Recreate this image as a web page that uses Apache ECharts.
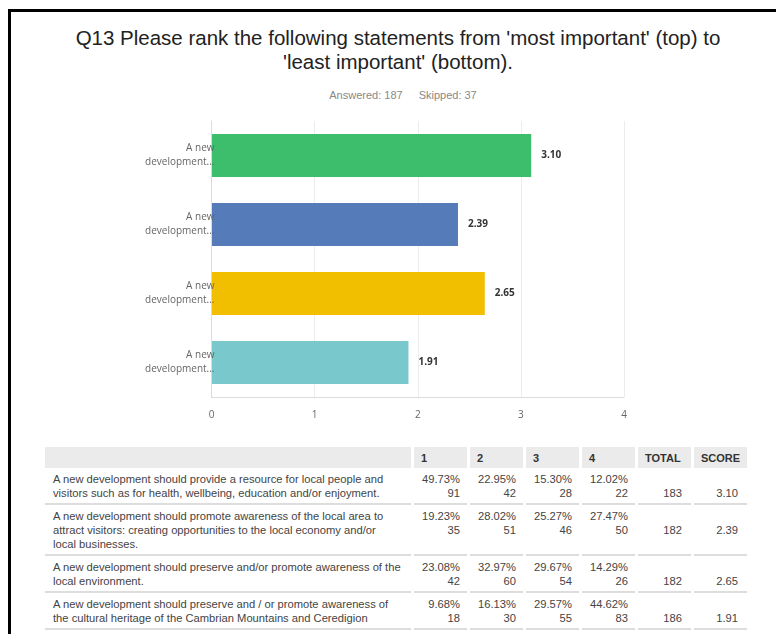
<!DOCTYPE html>
<html>
<head>
<meta charset="utf-8">
<script src="https://cdn.jsdelivr.net/npm/echarts@6/dist/echarts.min.js"></script>
<style>
  html, body { margin: 0; padding: 0; background: #fff; }
  body { width: 776px; height: 634px; position: relative; overflow: hidden; font-family: "Liberation Sans", Arial, sans-serif; }
  #frame { position: absolute; left: 8px; top: 9px; width: 800px; height: 700px;
           border-top: 3px solid #000; border-left: 3px solid #000; }
  #title { position: absolute; left: 0; top: 26px; width: 796px; text-align: center;
           font-size: 20.5px; line-height: 24px; color: #222; }
  #sub { position: absolute; left: 0; top: 89px; width: 806px; text-align: center;
         font-size: 11px; line-height: 12px; color: #888; }
  #sub span + span { margin-left: 16px; }
  #chart { position: absolute; left: 0; top: 100px; width: 776px; height: 340px; }
  #tbl { position: absolute; left: 42px; top: 447px; border-collapse: separate; border-spacing: 3px 0;
         table-layout: fixed; width: 706px; font-size: 11.2px; color: #444; }
  #tbl th { background: #ebebeb; height: 21px; padding: 0 7px; text-align: left; font-weight: bold;
            color: #333; font-size: 11px; overflow: hidden; white-space: nowrap; }
  #tbl td { padding: 4px 7px 3px 7px; line-height: 14px; border-bottom: 2px solid #ddd; vertical-align: top; }
  #tbl td.q { padding-left: 8px; padding-right: 9px; }
  #tbl td.n { text-align: right; white-space: nowrap; }
  #tbl td.t { padding-right: 9px; }
</style>
</head>
<body>
<div id="frame"></div>
<div id="title">Q13 Please rank the following statements from 'most important' (top) to<br>'least important' (bottom).</div>
<div id="sub"><span>Answered: 187</span><span>Skipped: 37</span></div>
<div id="chart"></div>
<table id="tbl"></table>
<script>
// Survey statements (also used as chart categories)
const statements = [
  "A new development should provide a resource for local people and visitors such as for health, wellbeing, education and/or enjoyment.",
  "A new development should promote awareness of the local area to attract visitors: creating opportunities to the local economy and/or local businesses.",
  "A new development should preserve and/or promote awareness of the local environment.",
  "A new development should preserve and / or promote awareness of the cultural heritage of the Cambrian Mountains and Ceredigion"
];
// Average ranking score per statement
const scores = [3.10, 2.39, 2.65, 1.91];
// Rank columns
const rankLabels = ["1", "2", "3", "4"];
const rankPercents = [
  [49.73, 22.95, 15.30, 12.02],
  [19.23, 28.02, 25.27, 27.47],
  [23.08, 32.97, 29.67, 14.29],
  [9.68, 16.13, 29.57, 44.62]
];
const rankCounts = [
  [91, 42, 28, 22],
  [35, 51, 46, 50],
  [42, 60, 54, 26],
  [18, 30, 55, 83]
];
const totals = [183, 182, 182, 186];
const xTicks = [0, 1, 2, 3, 4];

const barColors = ["#3dbe6c", "#557bb8", "#f2be00", "#79c8cb"];

// Short axis label: first two words, then the third word with an ellipsis
function shortLabel(s) {
  const w = s.split(" ");
  return w[0] + " " + w[1] + "\n" + w[2] + "...";
}

// Keep the final word of a sentence together with the one before it
function noWidow(s) {
  return s.replace(/ (\S+\.)$/, "\u00a0$1");
}

const chart = echarts.init(document.getElementById("chart"));
chart.setOption({
  animation: false,
  grid: { left: 211.5, right: 152, top: 21, height: 276, containLabel: false },
  xAxis: {
    type: "value",
    min: xTicks[0],
    max: xTicks[xTicks.length - 1],
    interval: 1,
    axisLine: { show: true, lineStyle: { color: "#dcdcdc", width: 1 } },
    axisTick: { show: false },
    splitLine: { show: true, lineStyle: { color: "#ececec", width: 1 } },
    axisLabel: { color: "#666", fontSize: 10, margin: 13, fontFamily: "Open Sans" }
  },
  yAxis: {
    type: "category",
    inverse: true,
    z: 5,
    data: statements,
    axisLine: { show: true, lineStyle: { color: "#dcdcdc", width: 1 } },
    axisTick: { show: false },
    axisLabel: {
      formatter: shortLabel,
      color: "#666",
      fontSize: 10,
      lineHeight: 14,
      padding: [4, 0, 0, 0],
      margin: -3,
      fontFamily: "Open Sans"
    }
  },
  series: [{
    type: "bar",
    barWidth: 43,
    data: scores.map((v, i) => ({ value: v, itemStyle: { color: barColors[i] } })),
    label: {
      show: true,
      position: "right",
      distance: 10,
      formatter: p => p.value.toFixed(2),
      color: "#333",
      fontSize: 10,
      fontWeight: "bold",
      fontFamily: "Open Sans"
    }
  }]
});

// Results table
const tbl = document.getElementById("tbl");
let html = '<colgroup><col style="width:366px">' +
           '<col style="width:53px"><col style="width:53px"><col style="width:53px"><col style="width:53px">' +
           '<col style="width:53px"><col style="width:53px"></colgroup>';
html += "<tr><th></th>" + rankLabels.map(r => "<th>" + r + "</th>").join("") +
        "<th>TOTAL</th><th>SCORE</th></tr>";
statements.forEach((s, i) => {
  html += '<tr><td class="q">' + noWidow(s) + "</td>";
  rankPercents[i].forEach((p, j) => {
    html += '<td class="n">' + p.toFixed(2) + "%<br>" + rankCounts[i][j] + "</td>";
  });
  html += '<td class="n t"><br>' + totals[i] + '</td><td class="n t"><br>' + scores[i].toFixed(2) + "</td></tr>";
});
tbl.innerHTML = html;
</script>
</body>
</html>
